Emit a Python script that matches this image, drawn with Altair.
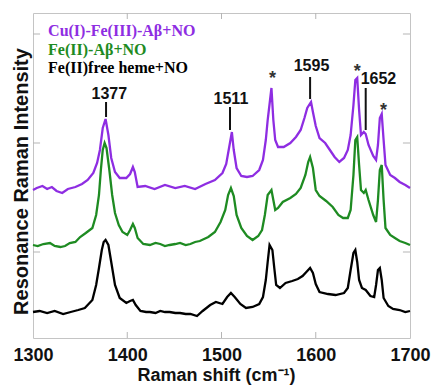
import altair as alt
import pandas as pd

# ---------------- data ----------------
series_names = ["Cu(I)-Fe(III)-Aβ+NO", "Fe(II)-Aβ+NO", "Fe(II)free heme+NO"]
series_colors = ["#8E2DE2", "#1E8B22", "#000000"]

purple_x = [1300, 1304, 1310, 1315, 1320, 1325, 1331, 1337, 1345, 1352, 1358, 1364, 1368, 1371, 1374, 1377,
            1380, 1383, 1387, 1392, 1399, 1403, 1406, 1408, 1411, 1419, 1429, 1440, 1451, 1461, 1472, 1483,
            1493, 1501, 1505, 1508, 1511, 1513, 1516, 1521, 1527, 1533, 1540, 1544, 1547, 1549, 1553, 1555,
            1557, 1560, 1566, 1573, 1579, 1584, 1588, 1591, 1595, 1597, 1600, 1604, 1610, 1615, 1620, 1625,
            1630, 1634, 1637, 1640, 1642, 1644, 1646, 1648, 1651, 1653, 1656, 1661, 1664, 1666, 1668, 1670,
            1672, 1674, 1679, 1684, 1689, 1695, 1700]
purple_y = [148, 150, 152, 149, 151, 147, 145, 149, 151, 154, 158, 165, 175, 188, 210, 219,
            203, 180, 166, 160, 160, 164, 171, 166, 151, 152, 149, 153, 150, 152, 149, 154,
            158, 165, 174, 190, 206, 188, 170, 162, 161, 162, 168, 178, 198, 218, 250, 218,
            198, 191, 191, 195, 201, 208, 220, 230, 236, 226, 212, 200, 195, 188, 181, 176,
            180, 188, 203, 233, 258, 260, 228, 203, 206, 204, 193, 182, 178, 193, 220, 224,
            198, 173, 163, 160, 156, 153, 150]

green_x = [1300, 1305, 1311, 1318, 1323, 1329, 1334, 1339, 1345, 1350, 1356, 1363, 1367, 1370, 1372, 1374,
           1376, 1378, 1381, 1384, 1387, 1391, 1395, 1400, 1403, 1406, 1408, 1411, 1417, 1424, 1430, 1435,
           1440, 1445, 1451, 1456, 1462, 1467, 1472, 1477, 1486, 1493, 1499, 1504, 1507, 1510, 1513, 1516,
           1521, 1527, 1533, 1539, 1543, 1546, 1549, 1553, 1555, 1557, 1560, 1565, 1573, 1579, 1584, 1589,
           1592, 1594, 1597, 1600, 1604, 1611, 1618, 1624, 1629, 1634, 1637, 1640, 1642, 1644, 1646, 1648,
           1651, 1653, 1656, 1661, 1664, 1666, 1668, 1670, 1672, 1674, 1679, 1684, 1689, 1695, 1700]
green_y = [93, 92, 94, 95, 92, 91, 92, 95, 96, 101, 105, 110, 123, 143, 168, 188,
           195, 190, 168, 143, 125, 113, 106, 103, 108, 114, 110, 100, 94, 93, 95, 94,
           92, 93, 94, 95, 93, 94, 96, 97, 101, 106, 116, 128, 143, 150, 142, 123,
           110, 102, 98, 102, 108, 123, 143, 148, 138, 128, 130, 136, 140, 144, 150, 163,
           176, 181, 170, 148, 142, 137, 131, 123, 120, 120, 128, 163, 198, 201, 173, 148,
           145, 148, 138, 123, 116, 138, 168, 173, 138, 110, 103, 100, 97, 95, 93]

black_x = [1300, 1307, 1315, 1323, 1332, 1340, 1348, 1355, 1363, 1367, 1370, 1373, 1375, 1377, 1380, 1383,
           1387, 1392, 1399, 1403, 1406, 1409, 1414, 1420, 1424, 1430, 1435, 1440, 1445, 1451, 1456, 1462,
           1467, 1474, 1480, 1488, 1494, 1501, 1506, 1510, 1514, 1520, 1526, 1533, 1540, 1544, 1547, 1549,
           1551, 1554, 1556, 1558, 1562, 1568, 1575, 1581, 1586, 1591, 1594, 1597, 1600, 1604, 1613, 1621,
           1630, 1634, 1637, 1640, 1642, 1644, 1646, 1649, 1653, 1658, 1662, 1664, 1666, 1668, 1670, 1672,
           1677, 1682, 1689, 1695, 1700]
black_y = [26, 27, 25, 27, 24, 26, 28, 30, 38, 53, 70, 88, 96, 98, 93, 76,
           53, 40, 35, 37, 38, 33, 27, 26, 26, 25, 27, 26, 26, 25, 25, 24,
           24, 22, 27, 33, 36, 34, 41, 45, 41, 34, 30, 31, 34, 41, 58, 76,
           93, 88, 70, 53, 50, 55, 57, 59, 62, 67, 70, 65, 54, 46, 44, 43,
           45, 50, 68, 85, 88, 76, 58, 50, 48, 42, 41, 53, 68, 70, 58, 40,
           32, 29, 28, 26, 27]

# peak labels
peak_labels = ["1377", "1511", "1595", "1652"]
peak_label_x = [1381, 1510, 1595.5, 1666.5]
peak_label_y = [244, 239.5, 272.5, 259]
# marker lines under the labels
marker_x = [1377.5, 1509, 1594, 1653]
marker_top = [236, 231, 261, 250]
marker_bottom = [221, 208, 239, 208]
# asterisks
star_x = [1554, 1644, 1672]
star_y = [254, 261, 222]
# legend text positions
legend_x = [1316, 1316, 1316]
legend_y = [307, 288, 270]

x_ticks = [1400, 1500, 1600]
y_ticks = [86, 195, 304]
x_labels = [1300, 1400, 1500, 1600, 1700]

# ---------------- tables ----------------
rows = []
for name, xs, ys in zip(series_names, [purple_x, green_x, black_x], [purple_y, green_y, black_y]):
    for a, b in zip(xs, ys):
        rows.append({"series": name, "shift": a, "intensity": b})
spectra = pd.DataFrame(rows)

peaks = pd.DataFrame({"label": peak_labels, "x": peak_label_x, "y": peak_label_y})
markers = pd.DataFrame({"x": marker_x, "y": marker_top, "y2": marker_bottom})
stars = pd.DataFrame({"x": star_x, "y": star_y, "label": ["*"] * len(star_x)})
legend = pd.DataFrame({"series": series_names, "x": legend_x, "y": legend_y})

xt = pd.DataFrame({"x": x_ticks})
yt = pd.DataFrame({"y": y_ticks})

xscale = alt.Scale(domain=[1300, 1700], nice=False, zero=False)
yscale = alt.Scale(domain=[0, 325], nice=False, zero=False)
cscale = alt.Scale(domain=series_names, range=series_colors)

x_axis = alt.Axis(values=x_labels, format="d", grid=False, ticks=False, domain=False,
                  labelFontSize=18, labelFontWeight="bold", labelFont="Liberation Sans",
                  labelColor="#111", labelPadding=8, labelFlush=False,
                  title="Raman shift (cm⁻¹)", titleFontSize=18, titleFont="Liberation Sans",
                  titleFontWeight="bold", titleColor="#111", titleX=183, titleY=42,
                  titleAlign="center", titleBaseline="alphabetic")
y_axis = alt.Axis(labels=False, ticks=False, grid=False, domain=False,
                  title="Resonance Raman Intensity", titleFontSize=20, titleFont="Liberation Sans",
                  titleFontWeight="bold", titleColor="#111", titleX=-6, titleY=168,
                  titleAlign="center", titleBaseline="alphabetic")

lines = alt.Chart(spectra).mark_line(strokeWidth=2.3).encode(
    x=alt.X("shift:Q", scale=xscale, axis=x_axis),
    y=alt.Y("intensity:Q", scale=yscale, axis=y_axis),
    color=alt.Color("series:N", scale=cscale, legend=None),
    detail="series:N",
)

tick_color = "#b5b5b5"
xt_bottom = alt.Chart(xt).mark_rule(color=tick_color, strokeWidth=1).encode(
    x=alt.X("x:Q", scale=xscale), y=alt.datum(0), y2=alt.datum(6))
xt_top = alt.Chart(xt).mark_rule(color=tick_color, strokeWidth=1).encode(
    x=alt.X("x:Q", scale=xscale), y=alt.datum(325), y2=alt.datum(319))
yt_left = alt.Chart(yt).mark_rule(color=tick_color, strokeWidth=1).encode(
    y=alt.Y("y:Q", scale=yscale), x=alt.datum(1300), x2=alt.datum(1307.5))
yt_right = alt.Chart(yt).mark_rule(color=tick_color, strokeWidth=1).encode(
    y=alt.Y("y:Q", scale=yscale), x=alt.datum(1700), x2=alt.datum(1692.5))

marker_rules = alt.Chart(markers).mark_rule(color="#111", strokeWidth=2).encode(
    x=alt.X("x:Q", scale=xscale), y=alt.Y("y:Q", scale=yscale), y2="y2:Q")

peak_text = alt.Chart(peaks).mark_text(font="Liberation Sans", fontWeight="bold", fontSize=16,
                                       color="#111", align="center", baseline="middle").encode(
    x=alt.X("x:Q", scale=xscale), y=alt.Y("y:Q", scale=yscale), text="label:N")

star_text = alt.Chart(stars).mark_text(font="Liberation Sans", fontWeight="bold", fontSize=18,
                                       color="#333", align="center", baseline="alphabetic").encode(
    x=alt.X("x:Q", scale=xscale), y=alt.Y("y:Q", scale=yscale), text="label:N")

legend_text = alt.Chart(legend).mark_text(font="Liberation Serif", fontWeight="bold", fontSize=16,
                                          align="left", baseline="middle").encode(
    x=alt.X("x:Q", scale=xscale), y=alt.Y("y:Q", scale=yscale), text="series:N",
    color=alt.Color("series:N", scale=cscale, legend=None))

chart = alt.layer(
    xt_bottom, xt_top, yt_left, yt_right, lines, marker_rules, peak_text, star_text, legend_text
).properties(
    width=377, height=325, autosize="none",
    padding={"left": 33, "top": 13, "right": 23, "bottom": 50},
    background="white",
).configure_view(stroke="#c4c4c4", strokeWidth=1)

chart.save("out.html", embed_options={"renderer": "svg", "actions": False})
